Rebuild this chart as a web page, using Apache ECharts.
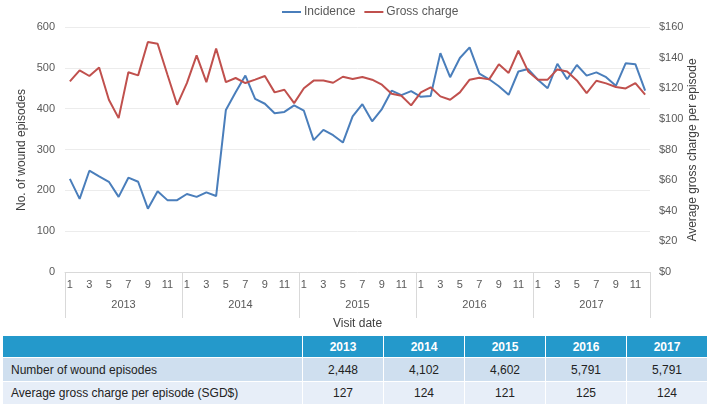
<!DOCTYPE html>
<html>
<head>
<meta charset="utf-8">
<script src="https://cdn.jsdelivr.net/npm/echarts@6/dist/echarts.min.js"></script>
<style>
html,body{margin:0;padding:0;background:#fff;}
#chart{position:absolute;left:0;top:0;width:709px;height:334px;}
#tbl{position:absolute;left:2px;top:335px;border-collapse:separate;border-spacing:1px;font-family:"Liberation Sans",Arial,sans-serif;font-size:12px;color:#222;}
#tbl td{height:22px;padding:0;text-align:center;}
#tbl tr.h td{background:#2499cb;color:#fff;font-weight:bold;height:21px;}
#tbl tr.r1 td{background:#cfdfef;height:23px;}
#tbl tr.r2 td{background:#e7eef8;height:22px;}
#tbl td.lab{text-align:left;padding-left:8px;width:291px;}
#tbl td.v{width:80px;}
</style>
</head>
<body>
<div id="chart"></div>
<table id="tbl"></table>
<script>
// ---- data ----
const years = ['2013','2014','2015','2016','2017'];
const monthLabels = ['1','2','3','4','5','6','7','8','9','10','11','12'];
const incidence = [
  228,179,248,234,221,184,231,221,155,198,176,176,
  191,184,195,186,397,440,481,424,412,389,392,408,
  395,323,348,335,317,381,411,369,399,444,433,443,
  429,431,536,477,524,550,486,472,455,434,491,497,
  471,450,510,472,507,481,489,477,456,511,509,444
];
const grossCharge = [
  124.5,131.7,128,133.6,112.5,100.5,130.4,128.4,150.2,149.1,129,109.2,
  123.4,141.5,124,146,124,126.7,123.4,125.6,128,117.3,119,110.3,
  120,125,125,123.6,127.5,126,127.3,125.6,122.3,116.4,115.1,108.8,
  117.3,120.6,114.7,112.5,117.3,125.6,126.9,125.8,135.7,130,144.5,131,
  125.6,125.6,132.3,131,125.1,116.8,124.9,123.2,120.8,119.9,123.4,115.8
];
const leftAxisName = 'No. of wound episodes';
const rightAxisName = 'Average gross charge per episode';
const tableRowLabels = ['Number of wound episodes','Average gross charge per episode (SGD$)'];
const tableEpisodes = ['2,448','4,102','4,602','5,791','5,791'];
const tableCharge = ['127','124','121','125','124'];

// ---- table ----
(function(){
  const t = document.getElementById('tbl');
  let h = '<tr class="h"><td class="lab"></td>' + years.map(y=>'<td class="v">'+y+'</td>').join('') + '</tr>';
  h += '<tr class="r1"><td class="lab">'+tableRowLabels[0]+'</td>' + tableEpisodes.map(v=>'<td class="v">'+v+'</td>').join('') + '</tr>';
  h += '<tr class="r2"><td class="lab">'+tableRowLabels[1]+'</td>' + tableCharge.map(v=>'<td class="v">'+v+'</td>').join('') + '</tr>';
  t.innerHTML = h;
})();

// ---- chart ----
const months = [];
years.forEach(y => monthLabels.forEach(m => months.push(m)));
const FONT = 'Liberation Sans';
const chart = echarts.init(document.getElementById('chart'), null, {renderer:'canvas'});
chart.setOption({
  animation:false,
  textStyle:{fontFamily:FONT},
  legend:{
    top:1, left:277, itemWidth:19, itemHeight:2, itemGap:9, icon:'rect',
    textStyle:{color:'#595959', fontSize:12, fontFamily:FONT, padding:[0,0,0,-2]},
    data:['Incidence','Gross charge']
  },
  grid:{left:65, right:59, top:27, bottom:62, containLabel:false, outerBoundsMode:'none'},
  graphic:[
    {type:'text', x:22, y:150, rotation:Math.PI/2,
     style:{text:leftAxisName, fill:'#404040', fontSize:12, fontFamily:FONT, align:'center', verticalAlign:'middle'}},
    {type:'text', x:693, y:150, rotation:Math.PI/2,
     style:{text:rightAxisName, fill:'#404040', fontSize:12, fontFamily:FONT, align:'center', verticalAlign:'middle'}}
  ],
  xAxis:[
    {
      type:'category', data:months, boundaryGap:true,
      axisLine:{lineStyle:{color:'#d9d9d9'}},
      axisTick:{show:false},
      axisLabel:{interval:1, color:'#595959', fontSize:11, margin:7, fontFamily:FONT}
    },
    {
      type:'category', data:years, position:'bottom', boundaryGap:true,
      axisLine:{show:false},
      axisTick:{show:true, length:46, interval:0, lineStyle:{color:'#d9d9d9'}},
      axisLabel:{color:'#595959', fontSize:11, margin:27, fontFamily:FONT},
      name:'Visit date', nameLocation:'middle', nameGap:46,
      nameTextStyle:{color:'#404040', fontSize:12, fontFamily:FONT}
    }
  ],
  yAxis:[
    {
      type:'value', min:0, max:600, interval:100,
      axisLine:{show:false}, axisTick:{show:false},
      splitLine:{lineStyle:{color:'#ececec'}},
      axisLabel:{color:'#595959', fontSize:11, margin:10, fontFamily:FONT}
    },
    {
      type:'value', min:0, max:160, interval:20, position:'right',
      axisLine:{show:false}, axisTick:{show:false}, splitLine:{show:false},
      axisLabel:{color:'#595959', fontSize:11, margin:9, fontFamily:FONT, formatter:v=>'$'+v}
    }
  ],
  series:[
    {name:'Incidence', type:'line', data:incidence, xAxisIndex:0, yAxisIndex:0,
     symbol:'none', lineStyle:{color:'#4a7ebb', width:2}, itemStyle:{color:'#4a7ebb'}},
    {name:'Gross charge', type:'line', data:grossCharge, xAxisIndex:0, yAxisIndex:1,
     symbol:'none', lineStyle:{color:'#c0504d', width:2}, itemStyle:{color:'#c0504d'}}
  ]
});
</script>
</body>
</html>
